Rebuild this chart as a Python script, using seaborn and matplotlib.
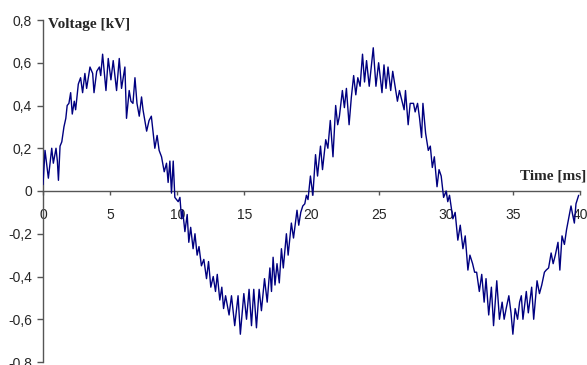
import matplotlib
matplotlib.use("Agg")
import matplotlib.pyplot as plt
import seaborn as sns
import pandas as pd

time_ms = [0.00, 0.15, 0.40, 0.65, 0.77, 0.97, 1.07, 1.15, 1.27, 1.40, 1.56, 1.70, 1.80, 1.93,
           2.06, 2.18, 2.33, 2.43, 2.63, 2.80, 2.95, 3.12, 3.25, 3.50, 3.70, 3.80, 4.00, 4.20,
           4.30, 4.44, 4.69, 4.86, 5.06, 5.23, 5.48, 5.68, 5.85, 6.10, 6.22, 6.42, 6.55, 6.70,
           6.85, 7.00, 7.17, 7.34, 7.45, 7.72, 7.90, 8.07, 8.33, 8.50, 8.65, 8.83, 9.03, 9.20,
           9.32, 9.45, 9.57, 9.70, 9.82, 10.07, 10.20, 10.32, 10.40, 10.57, 10.74, 10.86, 11.00,
           11.18, 11.32, 11.48, 11.62, 11.80, 11.98, 12.18, 12.33, 12.50, 12.68, 12.85, 12.98,
           13.17, 13.32, 13.45, 13.60, 13.86, 14.04, 14.28, 14.53, 14.70, 14.96, 15.16, 15.35,
           15.53, 15.70, 15.90, 16.10, 16.27, 16.50, 16.70, 16.90, 17.02, 17.14, 17.28, 17.43,
           17.60, 17.76, 17.90, 18.13, 18.26, 18.50, 18.66, 18.92, 19.05, 19.20, 19.35, 19.50,
           19.62, 19.74, 19.92, 20.10, 20.30, 20.45, 20.67, 20.82, 21.06, 21.22, 21.40, 21.60,
           21.80, 21.95, 22.08, 22.30, 22.45, 22.60, 22.80, 22.97, 23.14, 23.30, 23.45, 23.62,
           23.80, 23.95, 24.10, 24.30, 24.60, 24.80, 25.00, 25.25, 25.40, 25.55, 25.70, 25.90,
           26.05, 26.40, 26.55, 26.90, 27.00, 27.20, 27.35, 27.60, 27.72, 27.90, 28.05, 28.20,
           28.30, 28.50, 28.70, 28.85, 29.00, 29.15, 29.35, 29.50, 29.66, 29.84, 30.03, 30.15,
           30.28, 30.53, 30.70, 30.90, 31.08, 31.28, 31.45, 31.65, 31.80, 32.00, 32.15, 32.30,
           32.50, 32.68, 32.86, 33.00, 33.20, 33.40, 33.56, 33.80, 34.00, 34.20, 34.35, 34.50,
           34.70, 34.86, 35.00, 35.17, 35.35, 35.50, 35.63, 35.75, 36.00, 36.15, 36.40, 36.55,
           36.80, 36.98, 37.15, 37.35, 37.48, 37.66, 37.85, 38.00, 38.16, 38.36, 38.50, 38.66,
           38.84, 39.00, 39.15, 39.33, 39.45, 39.58, 39.70, 39.90]

voltage_kv = [0.03, 0.19, 0.06, 0.20, 0.13, 0.20, 0.14, 0.05, 0.21, 0.23, 0.30, 0.34, 0.40, 0.41,
              0.46, 0.36, 0.42, 0.38, 0.50, 0.53, 0.46, 0.55, 0.48, 0.58, 0.55, 0.46, 0.56, 0.58,
              0.54, 0.64, 0.47, 0.62, 0.52, 0.61, 0.47, 0.62, 0.48, 0.58, 0.34, 0.47, 0.42, 0.41,
              0.53, 0.41, 0.35, 0.44, 0.38, 0.28, 0.33, 0.35, 0.20, 0.26, 0.19, 0.16, 0.09, 0.13,
              0.04, 0.14, -0.01, 0.14, -0.03, -0.05, -0.03, -0.13, -0.09, -0.19, -0.11, -0.24, -0.17,
              -0.27, -0.20, -0.30, -0.26, -0.35, -0.32, -0.41, -0.33, -0.45, -0.40, -0.47, -0.39,
              -0.51, -0.45, -0.55, -0.49, -0.58, -0.49, -0.63, -0.49, -0.67, -0.48, -0.60, -0.46,
              -0.63, -0.46, -0.64, -0.46, -0.56, -0.41, -0.52, -0.36, -0.47, -0.31, -0.44, -0.34,
              -0.43, -0.27, -0.36, -0.20, -0.30, -0.15, -0.22, -0.09, -0.16, -0.10, -0.07, -0.06,
              -0.02, -0.04, 0.07, -0.02, 0.17, 0.07, 0.21, 0.10, 0.24, 0.20, 0.33, 0.16,
              0.40, 0.31, 0.35, 0.47, 0.39, 0.48, 0.31, 0.44, 0.54, 0.45, 0.53, 0.49,
              0.64, 0.51, 0.61, 0.49, 0.67, 0.49, 0.60, 0.46, 0.59, 0.48, 0.58, 0.47,
              0.56, 0.42, 0.47, 0.38, 0.47, 0.31, 0.41, 0.41, 0.37, 0.41, 0.34, 0.25,
              0.41, 0.27, 0.19, 0.21, 0.11, 0.16, 0.02, 0.10, 0.07, -0.03, 0.00, -0.05,
              -0.02, -0.13, -0.10, -0.23, -0.16, -0.27, -0.21, -0.37, -0.30, -0.34, -0.38, -0.38,
              -0.47, -0.39, -0.52, -0.41, -0.58, -0.45, -0.63, -0.42, -0.60, -0.52, -0.60, -0.55,
              -0.49, -0.57, -0.67, -0.55, -0.60, -0.52, -0.49, -0.60, -0.47, -0.57, -0.45, -0.60,
              -0.42, -0.48, -0.44, -0.38, -0.37, -0.36, -0.29, -0.34, -0.30, -0.24, -0.37, -0.21,
              -0.25, -0.18, -0.13, -0.07, -0.11, -0.15, -0.06, -0.02]

x_ticks = [0, 5, 10, 15, 20, 25, 30, 35, 40]
x_tick_labels = ["0", "5", "10", "15", "20", "25", "30", "35", "40"]
y_ticks = [-0.8, -0.6, -0.4, -0.2, 0.0, 0.2, 0.4, 0.6, 0.8]
y_tick_labels = ["-0,8", "-0,6", "-0,4", "-0,2", "0", "0,2", "0,4", "0,6", "0,8"]

df = pd.DataFrame({"t": time_ms, "v": voltage_kv})

sns.set_style("white")
plt.rcParams["font.family"] = ["Liberation Sans", "DejaVu Sans"]

fig = plt.figure(figsize=(5.87, 3.65), dpi=100)
ax = fig.add_axes([43 / 587, 3 / 365, 537 / 587, 342 / 365])

sns.lineplot(data=df, x="t", y="v", sort=False, estimator=None, color="#000080",
             linewidth=1.0, ax=ax, zorder=3)

ax.set_xlim(0, 40)
ax.set_ylim(-0.8, 0.8)
axis_color = "#555555"
for side in ["top", "right"]:
    ax.spines[side].set_visible(False)
ax.spines["bottom"].set_position(("data", 0))
ax.spines["bottom"].set_color(axis_color)
ax.spines["left"].set_color(axis_color)
ax.spines["bottom"].set_linewidth(1.0)
ax.spines["left"].set_linewidth(1.0)

ax.set_xticks(x_ticks)
ax.set_xticklabels(x_tick_labels)
ax.set_yticks(y_ticks)
ax.set_yticklabels(y_tick_labels)
ax.tick_params(axis="x", direction="out", length=3, width=1, color=axis_color,
               labelsize=10, pad=9, bottom=True)
ax.tick_params(axis="y", direction="out", length=4, width=1, color=axis_color,
               labelsize=10, pad=4, left=True)
ax.set_xlabel("")
ax.set_ylabel("")
ax.grid(False)

fig.text(48 / 587, 1 - 28 / 365, "Voltage [kV]", family="Liberation Serif",
         fontweight="bold", fontsize=11, ha="left", va="baseline")
fig.text(586 / 587, 1 - 179 / 365, "Time [ms]", family="Liberation Serif",
         fontweight="bold", fontsize=11, ha="right", va="baseline")

fig.savefig("out.png", dpi=100)
